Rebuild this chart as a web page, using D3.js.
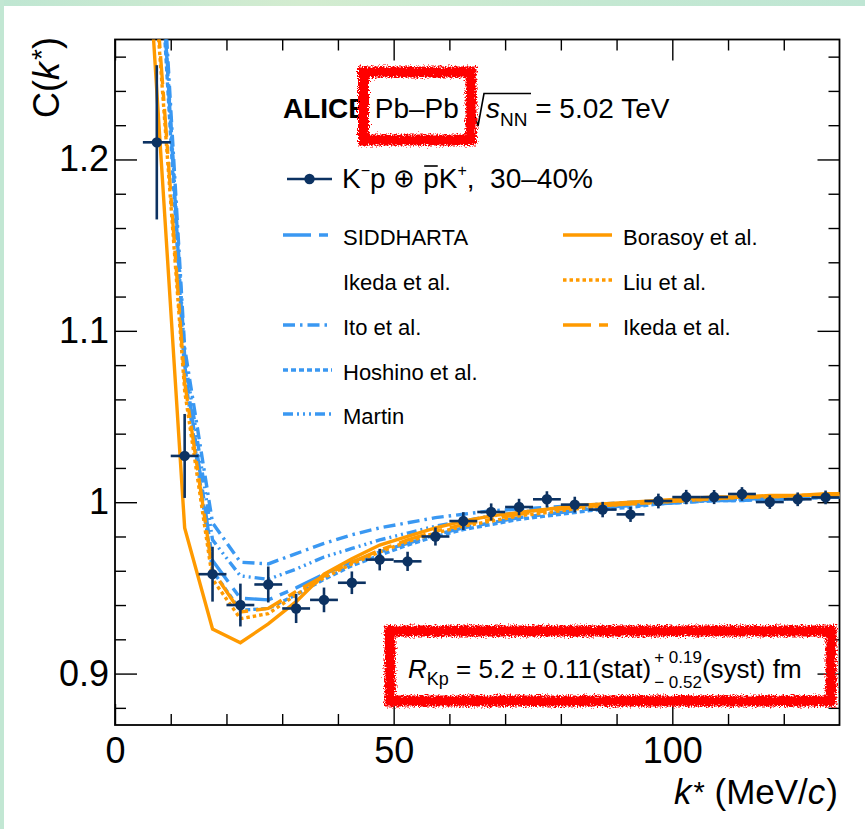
<!DOCTYPE html>
<html><head><meta charset="utf-8">
<script src="https://cdn.jsdelivr.net/npm/d3@7"></script>
<style>
body{margin:0;background:#fff}
svg{display:block}
text{font-family:"Liberation Sans",Arial,Helvetica,sans-serif;fill:#000}
</style>
</head><body>
<svg id="c" width="865" height="829"></svg>
<script>
// ---------------- data ----------------
const dataK = [7.5,12.5,17.5,22.5,27.5,32.5,37.5,42.5,47.5,52.5,57.5,62.5,67.5,72.5,77.5,82.5,87.5,92.5,97.5,102.5,107.5,112.5,117.5,122.5,127.5];
const dataC = [1.210,1.027,0.958,0.940,0.952,0.938,0.943,0.953,0.9665,0.9655,0.980,0.989,0.9943,0.9972,1.0017,0.9986,0.9957,0.9929,1.0007,1.0030,1.0030,1.0048,1.0001,1.0017,1.0028];
const dataErr = [0.045,0.0245,0.016,0.0125,0.0105,0.0085,0.0072,0.0066,0.0063,0.0056,0.0053,0.0052,0.005,0.0048,0.0047,0.0046,0.0045,0.0044,0.0043,0.0042,0.0041,0.004,0.004,0.004,0.004];
const dataKErr = 2.5;

const modelK = [2.5,7.5,12.5,17.5,22.5,27.5,32.5,37.5,42.5,47.5,52.5,57.5,62.5,67.5,72.5,77.5,82.5,87.5,92.5,97.5,102.5,107.5,112.5,117.5,122.5,127.5,132.5];
const siddharta = [1.80,1.36,1.080,0.966,0.944,0.943,0.950,0.958,0.965,0.971,0.976,0.981,0.985,0.988,0.991,0.993,0.995,0.997,0.998,0.999,1.000,1.001,1.001,1.002,1.002,1.003,1.003];
const ito       = [1.80,1.37,1.090,0.988,0.965,0.964,0.970,0.976,0.981,0.985,0.988,0.991,0.993,0.995,0.996,0.997,0.998,0.999,1.000,1.000,1.001,1.001,1.002,1.002,1.002,1.003,1.003];
const hoshino   = [1.80,1.35,1.075,0.960,0.937,0.938,0.946,0.955,0.963,0.969,0.975,0.980,0.984,0.987,0.990,0.992,0.994,0.996,0.997,0.999,1.000,1.001,1.001,1.002,1.002,1.003,1.003];
const martin    = [1.80,1.36,1.085,0.978,0.957,0.955,0.961,0.968,0.973,0.978,0.982,0.986,0.989,0.992,0.994,0.996,0.997,0.998,0.999,1.000,1.001,1.001,1.002,1.002,1.003,1.003,1.003];
const borasoy   = [1.50,1.24,0.985,0.926,0.918,0.929,0.942,0.958,0.967,0.975,0.980,0.985,0.989,0.992,0.994,0.996,0.998,0.999,1.000,1.001,1.002,1.003,1.003,1.004,1.004,1.005,1.005];
const liu       = [1.60,1.285,1.065,0.955,0.932,0.935,0.946,0.956,0.964,0.971,0.977,0.982,0.986,0.989,0.992,0.994,0.996,0.998,0.999,1.000,1.001,1.002,1.003,1.003,1.004,1.004,1.004];
const ikedaOrange = [1.60,1.29,1.070,0.960,0.936,0.938,0.948,0.957,0.965,0.972,0.978,0.983,0.987,0.990,0.993,0.995,0.997,0.998,0.999,1.000,1.001,1.002,1.003,1.003,1.004,1.004,1.004];

const xMajorTicks = [0,50,100];
const xTickLabels = ["0","50","100"];
const yMajorTicks = [0.9,1.0,1.1,1.2];
const yTickLabels = ["0.9","1","1.1","1.2"];

// ---------------- setup ----------------
const BLUE = "#3a98f2", ORANGE = "#ff9a00", NAVY = "#0c3262";
const FONT = '"Liberation Sans",Arial,Helvetica,sans-serif';
const svg = d3.select("#c");
const X0 = 115, X1 = 839.5, Y0 = 39.5, Y1 = 725;
const x = d3.scaleLinear().domain([0,130]).range([X0,X1]);
const y = d3.scaleLinear().domain([0.87,1.27]).range([Y1,Y0]);

const defs = svg.append("defs");
const grad = defs.append("linearGradient").attr("id","gr").attr("x1","0").attr("x2","1");
grad.append("stop").attr("offset","0").attr("stop-color","#bfe6d2");
grad.append("stop").attr("offset","0.35").attr("stop-color","#d3ecd0");
grad.append("stop").attr("offset","0.7").attr("stop-color","#c4e8d2");
grad.append("stop").attr("offset","1").attr("stop-color","#bfe6d4");
defs.append("clipPath").attr("id","clip").append("rect")
  .attr("x",X0).attr("y",Y0).attr("width",X1-X0).attr("height",Y1-Y0);
const f = defs.append("filter").attr("id","rough").attr("x","-5%").attr("y","-20%").attr("width","110%").attr("height","140%");
f.append("feTurbulence").attr("type","fractalNoise").attr("baseFrequency","0.7").attr("numOctaves","3").attr("seed","3").attr("result","n");
f.append("feDisplacementMap").attr("in","SourceGraphic").attr("in2","n").attr("scale","8")
  .attr("xChannelSelector","R").attr("yChannelSelector","G");

svg.append("rect").attr("width",865).attr("height",829).attr("fill","#fff");
svg.append("rect").attr("x",0).attr("y",0).attr("width",865).attr("height",6).attr("fill","url(#gr)");
svg.append("rect").attr("x",0).attr("y",0).attr("width",4).attr("height",829).attr("fill","#c2e7d3");

// ---------------- axes ----------------
const xMinor = d3.range(1,13).map(i=>i*10).filter(v=>v%50!==0);
const yMinor = d3.range(44,64).filter(i=>i%5!==0).map(i=>+(i*0.02).toFixed(2));

function styleAxis(g){
  g.select(".domain").remove();
  g.selectAll(".tick line").attr("stroke","#000").attr("stroke-width",1.4);
  g.selectAll(".tick text").attr("font-family",FONT).attr("font-size",36).attr("fill","#000");
}
svg.append("g").attr("transform",`translate(0,${Y1})`)
  .call(d3.axisBottom(x).tickValues(xMajorTicks).tickSize(-21).tickPadding(12).tickFormat((d,i)=>xTickLabels[i]))
  .call(styleAxis);
svg.append("g").attr("transform",`translate(0,${Y1})`)
  .call(d3.axisBottom(x).tickValues(xMinor).tickSize(-11).tickFormat(""))
  .call(styleAxis);
svg.append("g").attr("transform",`translate(0,${Y0})`)
  .call(d3.axisTop(x).tickValues(xMajorTicks).tickSize(-21).tickFormat(""))
  .call(styleAxis);
svg.append("g").attr("transform",`translate(0,${Y0})`)
  .call(d3.axisTop(x).tickValues(xMinor).tickSize(-11).tickFormat(""))
  .call(styleAxis);
svg.append("g").attr("transform",`translate(${X0},0)`)
  .call(d3.axisLeft(y).tickValues(yMajorTicks).tickSize(-22).tickPadding(6).tickFormat((d,i)=>yTickLabels[i]))
  .call(styleAxis);
svg.append("g").attr("transform",`translate(${X0},0)`)
  .call(d3.axisLeft(y).tickValues(yMinor).tickSize(-11).tickFormat(""))
  .call(styleAxis);
svg.append("g").attr("transform",`translate(${X1},0)`)
  .call(d3.axisRight(y).tickValues(yMajorTicks).tickSize(-22).tickFormat(""))
  .call(styleAxis);
svg.append("g").attr("transform",`translate(${X1},0)`)
  .call(d3.axisRight(y).tickValues(yMinor).tickSize(-11).tickFormat(""))
  .call(styleAxis);

svg.append("rect").attr("x",X0).attr("y",Y0).attr("width",X1-X0).attr("height",Y1-Y0)
  .attr("fill","none").attr("stroke","#000").attr("stroke-width",1.8);

// ---------------- rich text helper ----------------
function rich(parent, pieces){
  const g = parent.append("g");
  let cx = 0; const pos = [];
  function put(q, at){
    const t = g.append("text").attr("x",at).attr("y",q.dy||0)
      .attr("font-size",q.size).attr("font-weight",q.bold?"bold":"normal")
      .attr("font-style",q.italic?"italic":"normal")
      .style("white-space","pre").text(q.t);
    return t.node().getComputedTextLength();
  }
  pieces.forEach(p=>{
    if(p.stack){
      let w=0; p.stack.forEach(q=>{w=Math.max(w,put(q,cx));});
      pos.push([cx,cx+w]); cx+=w;
    } else if(p.space){ pos.push([cx,cx+p.space]); cx+=p.space; }
    else { const w=put(p,cx); pos.push([cx,cx+w]); cx+=w + (p.kern||0); }
  });
  return {g,width:cx,pos};
}
// single text element built from tspans
function spanText(parent, pieces){
  const t = parent.append("text").style("white-space","pre");
  let cur = 0;
  pieces.forEach(p=>{
    const dy = (p.dy||0) - cur; cur = p.dy||0;
    t.append("tspan").attr("dy",dy).attr("dx",p.dx||0).attr("font-size",p.size)
      .attr("font-style",p.italic?"italic":"normal").text(p.t);
  });
  return t;
}

// ---------------- models ----------------
const models = [
  {name:"SIDDHARTA", vals:siddharta, color:BLUE, dash:"28,8,9,8", col:0,row:0},
  {name:"Ikeda et al.", vals:null, color:BLUE, dash:null, col:0,row:1},
  {name:"Ito et al.", vals:ito, color:BLUE, dash:"12,5,2.5,5", col:0,row:2},
  {name:"Hoshino et al.", vals:hoshino, color:BLUE, dash:"5,3", col:0,row:3},
  {name:"Martin", vals:martin, color:BLUE, dash:"10,4,2,4,2,4,2,4", col:0,row:4},
  {name:"Borasoy et al.", vals:borasoy, color:ORANGE, dash:null, col:1,row:0},
  {name:"Liu et al.", vals:liu, color:ORANGE, dash:"3.5,3", col:1,row:1},
  {name:"Ikeda et al.", vals:ikedaOrange, color:ORANGE, dash:"28,8,9,8", col:1,row:2}
];
const line = d3.line().x(d=>x(d[0])).y(d=>y(d[1]));
const cg = svg.append("g").attr("clip-path","url(#clip)");
models.filter(m=>m.vals).forEach(m=>{
  cg.append("path").datum(modelK.map((k,i)=>[k,m.vals[i]]))
    .attr("d",line).attr("fill","none").attr("stroke",m.color).attr("stroke-width",3.4)
    .attr("stroke-dasharray",m.dash).attr("stroke-linejoin","miter");
});

// ---------------- data points ----------------
const dg = svg.append("g");
dataK.forEach((k,i)=>{
  dg.append("line").attr("x1",x(k-dataKErr)).attr("x2",x(k+dataKErr)).attr("y1",y(dataC[i])).attr("y2",y(dataC[i]))
    .attr("stroke",NAVY).attr("stroke-width",2.6);
  dg.append("line").attr("x1",x(k)).attr("x2",x(k)).attr("y1",y(dataC[i]-dataErr[i])).attr("y2",y(dataC[i]+dataErr[i]))
    .attr("stroke",NAVY).attr("stroke-width",2.6);
  dg.append("circle").attr("cx",x(k)).attr("cy",y(dataC[i])).attr("r",5.2).attr("fill",NAVY);
});

// ---------------- legend ----------------
const lg = svg.append("g");
const colX = [283,563], textX = [343,623], rowY = [245,290,335,380,424];
models.forEach(m=>{
  const yy = rowY[m.row]-10;
  if(m.vals){
    lg.append("line").attr("x1",colX[m.col]).attr("x2",colX[m.col]+49).attr("y1",yy).attr("y2",yy)
      .attr("stroke",m.color).attr("stroke-width",3.4).attr("stroke-dasharray",m.dash);
  }
  lg.append("text").attr("x",textX[m.col]).attr("y",rowY[m.row]).attr("font-size",22).text(m.name);
});
// data legend entry
lg.append("line").attr("x1",287).attr("x2",332).attr("y1",179).attr("y2",179).attr("stroke",NAVY).attr("stroke-width",2.6);
lg.append("circle").attr("cx",309.5).attr("cy",179).attr("r",5.2).attr("fill",NAVY);
const dl = rich(lg,[
  {t:"K",size:28},{t:"−",size:16,dy:-12},{t:"p ",size:28},
  {t:"⊕",size:26,dy:-1},{t:" ",size:28},{t:"p",size:28},{t:"K",size:28},{t:"+",size:16,dy:-12},
  {t:",  30–40%",size:28}
]);
dl.g.attr("transform","translate(342,188)");
lg.append("line").attr("x1",342+dl.pos[5][0]+1).attr("x2",342+dl.pos[5][1]-1).attr("y1",166).attr("y2",166)
  .attr("stroke","#000").attr("stroke-width",1.6);

// ALICE header
const ah = rich(svg,[{t:"ALICE ",size:28,bold:true},{t:"Pb–Pb",size:28}]);
ah.g.attr("transform","translate(283,118)");
svg.append("path").attr("d","M467,111 L472,108 L478,126 L484,93.5 L531,93.5")
  .attr("fill","none").attr("stroke","#000").attr("stroke-width",1.6);
const sh = rich(svg,[{t:"s",size:28,italic:true},{t:"NN",size:19,dy:8},{t:" = 5.02 TeV",size:28}]);
sh.g.attr("transform","translate(486,118)");

// R_Kp result
const rk = rich(svg,[
  {t:"R",size:26,italic:true},{t:"Kp",size:18,dy:7},
  {t:" = 5.2 ± 0.11(stat)",size:26},
  {space:3},
  {stack:[{t:"+ 0.19",size:17,dy:-15},{t:"− 0.52",size:17,dy:10}]},
  {t:"(syst) fm",size:26}
]);
rk.g.attr("transform","translate(408,678)");

// axis titles (single text elements)
spanText(svg,[{t:"k",size:35,italic:true},{t:"*",size:29,dy:-2,dx:2},{t:" (MeV/",size:35},{t:"c",size:35,italic:true},{t:")",size:35,dx:1}])
  .attr("x",838).attr("y",804).attr("text-anchor","end");
spanText(svg,[{t:"C(",size:36},{t:"k",size:36,italic:true},{t:"*",size:28,dy:-8,dx:2},{t:")",size:36}])
  .attr("text-anchor","end").attr("transform","translate(59,37) rotate(-90)");

// red hand-drawn annotation boxes
const rg = svg.append("g").attr("filter","url(#rough)");
rg.append("rect").attr("x",363.5).attr("y",72).attr("width",107.5).attr("height",68)
  .attr("fill","none").attr("stroke","#ff0000").attr("stroke-width",11);
rg.append("rect").attr("x",390).attr("y",631).attr("width",441).attr("height",70)
  .attr("fill","none").attr("stroke","#ff0000").attr("stroke-width",11);
</script>
</body></html>
